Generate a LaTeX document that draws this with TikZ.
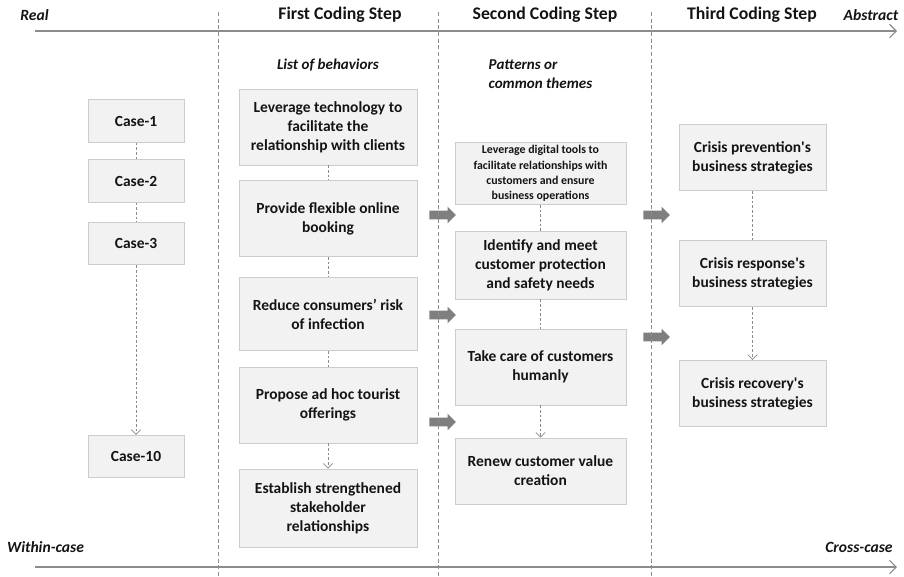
\documentclass[tikz,border=0pt]{standalone}
\usepackage{fontspec}
\setmainfont{Carlito}
\usepackage{tikz}
\definecolor{ink}{HTML}{141414}
\definecolor{boxfill}{HTML}{F2F2F2}
\definecolor{boxline}{HTML}{CCCCCC}
\definecolor{rule}{HTML}{8C8C8C}
\definecolor{flow}{HTML}{7F7F7F}
\usetikzlibrary{
  arrows.meta,
  positioning,
  shapes.arrows
}
\tikzset{
  >={Straight Barb[length=3.5pt,width=7pt]},
  every node/.style={text=ink, font=\bfseries\fontsize{11.6}{14.2}\selectfont},
  card/.style={
    draw=boxline,
    fill=boxfill,
    line width=0.6pt,
    align=center,
    inner sep=2pt
  },
  casebox/.style={card, minimum width=72pt, minimum height=32pt},
  behav/.style={card, minimum width=133.5pt, minimum height=57pt},
  theme/.style={card, minimum width=128.25pt},
  outcome/.style={card, minimum width=110.25pt, minimum height=50pt},
  link/.style={draw=rule, line width=0.5pt, dash pattern=on 2pt off 1.5pt},
  divider/.style={draw=rule, line width=0.6pt, dash pattern=on 3pt off 2pt},
  axisline/.style={draw=rule, line width=0.8pt, -{Straight Barb[length=5pt,width=10pt]}},
  heading/.style={font=\bfseries\fontsize{13.3}{15}\selectfont},
  endlabel/.style={font=\bfseries\itshape\fontsize{11.7}{13}\selectfont},
  sublabel/.style={font=\bfseries\itshape\fontsize{11.3}{14}\selectfont},
  fatarrow/.style={
    single arrow,
    fill=flow,
    draw=none,
    minimum height=20pt,
    inner xsep=0pt,
    inner ysep=3pt,
    single arrow head extend=3pt
  }
}

\begin{document}
\begin{tikzpicture}[x=0.75pt, y=-0.75pt]
  \useasboundingbox (0,0) rectangle (904,576);

  % axes
  \coordinate (topL) at (35,31);
  \coordinate (topR) at (897,31);
  \coordinate (botL) at (35,567);
  \coordinate (botR) at (897,567);
  \draw[axisline] (topL) -- (topR);
  \draw[axisline] (botL) -- (botR);
  \node[endlabel] (real) at (34.5,15) {Real};
  \node[endlabel] (abstract) at (871,15) {Abstract};
  \node[endlabel] (within) at (45.5,547) {Within-case};
  \node[endlabel] (cross) at (859,547) {Cross-case};

  \node[heading] (step1) at (340,15) {First Coding Step};
  \node[heading] (step2) at (545,15) {Second Coding Step};
  \node[heading] (step3) at (752,15) {Third Coding Step};

  \node[sublabel] (list) at (328,65) {List of behaviors};
  \node[sublabel, anchor=west, align=left] (pattern) at (484,74) {Patterns or\\common themes};

  % cases
  \node[casebox] (case1) at (136,121) {Case-1};
  \node[casebox] (case2) at (136,181) {Case-2};
  \node[casebox] (case3) at (136,243.5) {Case-3};
  \node[casebox] (case10) at (136,456.5) {Case-10};

  % first coding step
  \node[behav] (b1) at (328,127) {Leverage technology to\\facilitate the\\relationship with clients};
  \node[behav] (b2) at (328,218.5) {Provide flexible online\\booking};
  \node[behav, minimum height=55pt] (b3) at (328,314) {Reduce consumers’ risk\\of infection};
  \node[behav] (b4) at (328,405) {Propose ad hoc tourist\\offerings};
  \node[behav, minimum height=58.5pt] (b5) at (328,508) {Establish strengthened\\stakeholder\\relationships};

  % second coding step
  \node[theme, minimum height=45.75pt, font=\bfseries\fontsize{8.9}{11.6}\selectfont] (t1) at (540.5,173.5) {Leverage digital tools to\\facilitate relationships with\\customers and ensure\\business operations};
  \node[theme, minimum height=51pt] (t2) at (540.5,265) {Identify and meet\\customer protection\\and safety needs};
  \node[theme, minimum height=57pt] (t3) at (540.5,367) {Take care of customers\\humanly};
  \node[theme, minimum height=49.5pt] (t4) at (540.5,471) {Renew customer value\\creation};

  % third coding step
  \node[outcome] (s1) at (752.5,157.5) {Crisis prevention\textquotesingle s\\business strategies};
  \node[outcome] (s2) at (752.5,273.5) {Crisis response\textquotesingle s\\business strategies};
  \node[outcome] (s3) at (752.5,393.5) {Crisis recovery\textquotesingle s\\business strategies};

  \draw[link] (case1) -- (case2);
  \draw[link] (case2) -- (case3);
  \draw[link, ->] (case3) -- (case10);
  \draw[link] (b1) -- (b2);
  \draw[link] (b2) -- (b3);
  \draw[link] (b3) -- (b4);
  \draw[link, ->] (b4) -- (b5);
  \draw[link] (t1) -- (t2);
  \draw[link] (t2) -- (t3);
  \draw[link, ->] (t3) -- (t4);
  \draw[link] (s1) -- (s2);
  \draw[link, ->] (s2) -- (s3);

  \node[fatarrow] (f1) at (440.5,215) {};
  \node[fatarrow] (f2) at (440.5,315) {};
  \node[fatarrow] (f3) at (440.5,422) {};
  \node[fatarrow] (f4) at (654.5,215) {};
  \node[fatarrow] (f5) at (654.5,337) {};

  % column dividers
  \coordinate (d1a) at (218,12);
  \coordinate (d1b) at (218,576);
  \coordinate (d2a) at (438,12);
  \coordinate (d2b) at (438,576);
  \coordinate (d3a) at (651,12);
  \coordinate (d3b) at (651,576);
  \draw[divider] (d1a) -- (d1b);
  \draw[divider] (d2a) -- (d2b);
  \draw[divider] (d3a) -- (d3b);
\end{tikzpicture}
\end{document}
